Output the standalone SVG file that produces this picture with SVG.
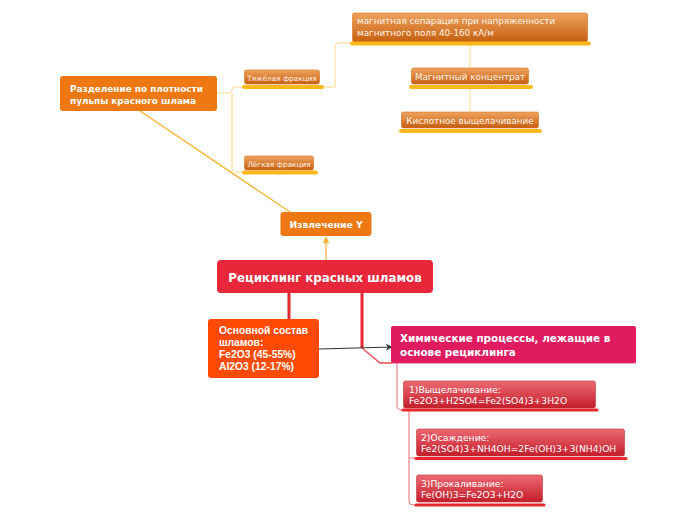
<svg xmlns="http://www.w3.org/2000/svg" width="696" height="520" viewBox="0 0 696 520">
<defs>
<linearGradient id="gOr" x1="0" y1="0" x2="0" y2="1">
<stop offset="0" stop-color="#efa35f"/>
<stop offset="1" stop-color="#c65e0f"/>
</linearGradient>
<linearGradient id="gRd" x1="0" y1="0" x2="0" y2="1">
<stop offset="0" stop-color="#ec6a72"/>
<stop offset="1" stop-color="#c41d2b"/>
</linearGradient>
<marker id="mBlk" viewBox="0 0 10 10" refX="9" refY="5" markerWidth="7" markerHeight="7" orient="auto" markerUnits="userSpaceOnUse">
<path d="M0,0 L10,5 L0,10 L3,5 Z" fill="#333"/>
</marker>
<marker id="mOr" viewBox="0 0 10 10" refX="9" refY="5" markerWidth="7" markerHeight="7" orient="auto" markerUnits="userSpaceOnUse">
<path d="M0,0 L10,5 L0,10 Z" fill="#f7b23a"/>
</marker>
</defs>
<style>
.t{font-family:"DejaVu Sans",Verdana,sans-serif;fill:#fff}
.b{font-weight:bold}
.a{font-family:"Liberation Sans",Arial,sans-serif;font-weight:bold;fill:#fff}
.sm{fill:#fff3e6}
.ln{fill:none;stroke:#ffd88a;stroke-width:1}
.uy{stroke:#ffb81c;stroke-width:4;stroke-linecap:round}
.ur{stroke:#e8262f;stroke-width:3;stroke-linecap:round}
.so{stroke:#d4701a;stroke-width:0.6}
.sr{stroke:#c0303a;stroke-width:0.6}
</style>
<rect width="696" height="520" fill="#fff"/>
<g id="connectors">
<path d="M290,212 L140,111" fill="none" stroke="#f7b32e" stroke-width="1.3"/>
<path d="M326,260 L326,237" fill="none" stroke="#f7b23a" stroke-width="1.3" marker-end="url(#mOr)"/>
<path d="M217,93 L228,93 Q232,93 232,90 Q232,87 236,87 L244,87 M232,93 L232,168 Q232,172 237,172 L244,172" class="ln"/>
<path d="M323,87 L335,87 L335,47 Q335,43 339,43 L352,43" class="ln"/>
<path d="M470,45 L470,68 M470,88 L470,112" class="ln"/>
<path d="M289,293 L289,319" stroke="#e8262f" stroke-width="3" fill="none"/>
<path d="M362,293 L362,348" stroke="#e8262f" stroke-width="3" fill="none"/>
<path d="M362,348 L380,363 L392,363" stroke="#ee4a52" stroke-width="1.3" fill="none"/>
<path d="M319,349 L392,347" stroke="#333" stroke-width="1.2" fill="none" marker-end="url(#mBlk)"/>
<path d="M397,363 L397,406 Q397,410 402,410" stroke="#ee6a70" stroke-width="1" fill="none"/>
<path d="M409,411 L409,501 Q409,505 413,505 L416,505 M409,458 L416,458" stroke="#ee6a70" stroke-width="1" fill="none"/>
<path d="M392,363 L636,363" stroke="#e85a80" stroke-width="1" fill="none"/>
</g>
<g id="main">
<rect x="217" y="260" width="216" height="33" rx="4" fill="#e8283a"/>
<text x="325" y="281.5" class="t b" font-size="11.8" text-anchor="middle">Рециклинг красных шламов</text>
</g>
<g id="izvlechenie">
<rect x="280.5" y="212" width="91" height="24" rx="3" fill="#ee7812"/>
<text x="326" y="227.5" class="t b" font-size="9.2" text-anchor="middle">Извлечение Y</text>
</g>
<g id="razdelenie">
<rect x="60" y="76" width="157" height="35" rx="3" fill="#ee7812"/>
<text x="70" y="92" class="t b" font-size="8.9">Разделение по плотности</text>
<text x="70" y="104" class="t b" font-size="8.9">пульпы красного шлама</text>
</g>
<g id="tyazh">
<rect x="244.5" y="70" width="75" height="14" rx="2" fill="url(#gOr)" class="so"/>
<line x1="244" y1="87" x2="322" y2="87" class="uy"/>
<text x="282" y="80.5" class="t sm" font-size="7.3" text-anchor="middle">Тяжёлая фракция</text>
</g>
<g id="legk">
<rect x="244.5" y="156" width="69" height="14" rx="2" fill="url(#gOr)" class="so"/>
<line x1="244" y1="172.5" x2="316" y2="172.5" class="uy"/>
<text x="279" y="166.5" class="t sm" font-size="7.3" text-anchor="middle">Лёгкая фракция</text>
</g>
<g id="magsep">
<rect x="352.5" y="13" width="235" height="29" rx="2" fill="url(#gOr)" class="so"/>
<line x1="352" y1="43.5" x2="589" y2="43.5" class="uy"/>
<text x="357" y="24" class="t sm" font-size="8.8">магнитная сепарация при напряженности</text>
<text x="357" y="36" class="t sm" font-size="8.8">магнитного поля 40-160 кА/м</text>
</g>
<g id="magkonc">
<rect x="411.5" y="68" width="117" height="16" rx="2" fill="url(#gOr)" class="so"/>
<line x1="411" y1="87" x2="531" y2="87" class="uy"/>
<text x="470" y="79.5" class="t sm" font-size="8.8" text-anchor="middle">Магнитный концентрат</text>
</g>
<g id="kislot">
<rect x="401.5" y="112" width="137" height="16" rx="2" fill="url(#gOr)" class="so"/>
<line x1="401" y1="131" x2="540" y2="131" class="uy"/>
<text x="470" y="123.5" class="t sm" font-size="8.8" text-anchor="middle">Кислотное выщелачивание</text>
</g>
<g id="sostav">
<rect x="208" y="319" width="111" height="59" rx="3" fill="#ff4a05"/>
<text x="219" y="334" class="a" font-size="10.3">Основной состав</text>
<text x="219" y="346" class="a" font-size="10.3">шламов:</text>
<text x="219" y="358" class="a" font-size="10.3">Fe2O3 (45-55%)</text>
<text x="219" y="370" class="a" font-size="10.3">Al2O3 (12-17%)</text>
</g>
<g id="himia">
<rect x="391" y="326" width="245" height="37" rx="2" fill="#e01b5f"/>
<text x="400" y="342" class="t b" font-size="10.4">Химические процессы, лежащие в</text>
<text x="400" y="356" class="t b" font-size="10.4">основе рециклинга</text>
</g>
<g id="p1">
<rect x="403.5" y="381" width="192" height="27" rx="2" fill="url(#gRd)" class="sr"/>
<line x1="403" y1="410" x2="597" y2="410" class="ur"/>
<text x="409" y="392.5" class="t" font-size="9.2">1)Выщелачивание:</text>
<text x="409" y="404" class="t" font-size="9.2">Fe2O3+H2SO4=Fe2(SO4)3+3H2O</text>
</g>
<g id="p2">
<rect x="416.5" y="429" width="208" height="27" rx="2" fill="url(#gRd)" class="sr"/>
<line x1="416" y1="458.5" x2="626" y2="458.5" class="ur"/>
<text x="421" y="440.5" class="t" font-size="9.2">2)Осаждение:</text>
<text x="421" y="452" class="t" font-size="9.2">Fe2(SO4)3+NH4OH=2Fe(OH)3+3(NH4)OH</text>
</g>
<g id="p3">
<rect x="416.5" y="475" width="126" height="27" rx="2" fill="url(#gRd)" class="sr"/>
<line x1="416" y1="505" x2="544" y2="505" class="ur"/>
<text x="421" y="486.5" class="t" font-size="9.2">3)Прокаливание:</text>
<text x="421" y="498" class="t" font-size="9.2">Fe(OH)3=Fe2O3+H2O</text>
</g>
</svg>
